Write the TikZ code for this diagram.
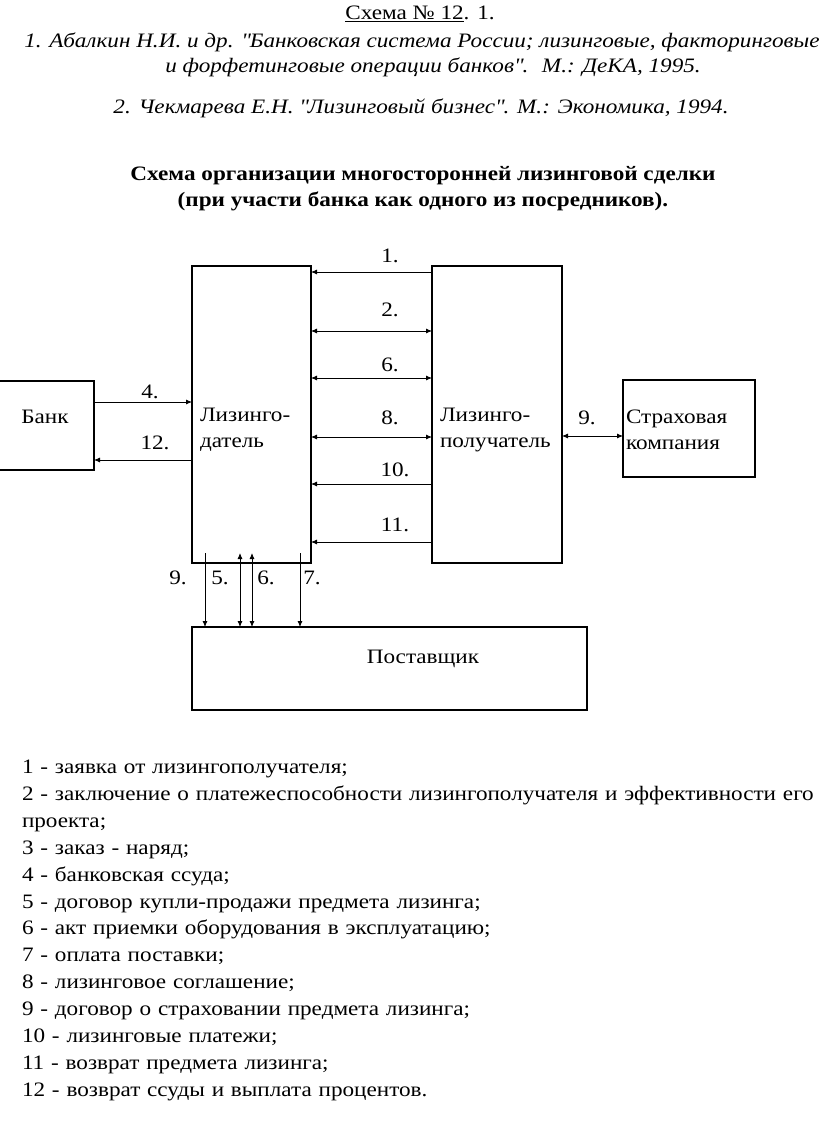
\documentclass[tikz,border=0pt]{standalone}
\usepackage{fontspec}
\setmainfont{Liberation Serif}[FakeStretch=1.13]
\usetikzlibrary{arrows.meta}
\begin{document}
\begin{tikzpicture}[x=1pt,y=-1pt,
  every node/.style={inner sep=0pt,outer sep=0pt,font=\fontsize{20.5}{25.5}\selectfont},
  box/.style={draw,line width=1.6pt,anchor=north west},
  arr/.style={line width=0.8pt,-{Latex[length=6pt,width=5pt]}},
  darr/.style={line width=0.8pt,{Latex[length=6pt,width=5pt]}-{Latex[length=6pt,width=5pt]}},
  lbl/.style={anchor=center},
  txt/.style={anchor=west,align=left},
  it/.style={anchor=center,font=\fontsize{20.5}{24.8}\selectfont\itshape},
  bf/.style={anchor=center,font=\fontsize{20.5}{24.8}\selectfont\bfseries}]
\useasboundingbox (0,0) rectangle (824,1148);
% header
\node[lbl] (h1) at (420,14) {\underline{Схема № 12}. 1.};
\node[it] (h2) at (422,42) {1. Абалкин Н.И. и др. \textquotedbl Банковская система России; лизинговые, факторинговые};
\node[it] (h3) at (433,67) {и форфетинговые операции банков\textquotedbl.~ М.: ДеКА, 1995.};
\node[it] (h4) at (421,108) {2. Чекмарева Е.Н. \textquotedbl Лизинговый бизнес\textquotedbl. М.: Экономика, 1994.};
\node[bf] (t1) at (423,176) {Схема организации многосторонней лизинговой сделки};
\node[bf] (t2) at (423,201) {(при участи банка как одного из посредников).};
% boxes
\node[box,minimum width=119,minimum height=297] (ld) at (192,266) {};
\node[box,minimum width=130,minimum height=297] (lp) at (432,266) {};
\node[box,minimum width=95,minimum height=89] (bank) at (-1,381) {};
\node[box,minimum width=132,minimum height=97] (ins) at (623,380) {};
\node[box,minimum width=395,minimum height=83] (sup) at (192,627) {};
% box texts
\node[txt] (ldt) at (200,430) {Лизинго-\\датель};
\node[txt] (lpt) at (440,430) {Лизинго-\\получатель};
\node[lbl] (bankt) at (45,417) {Банк};
\node[txt] (inst) at (626,430) {Страховая\\компания};
\node[lbl] (supt) at (423,659) {Поставщик};
% horizontal arrows between ld and lp
\draw[arr] (lp.west |- 0,272) -- (ld.east |- 0,272);
\draw[darr] (ld.east |- 0,331) -- (lp.west |- 0,331);
\draw[darr] (ld.east |- 0,378) -- (lp.west |- 0,378);
\draw[darr] (ld.east |- 0,437) -- (lp.west |- 0,437);
\draw[arr] (lp.west |- 0,484) -- (ld.east |- 0,484);
\draw[arr] (lp.west |- 0,542) -- (ld.east |- 0,542);
\node[lbl] (l1) at (390,256) {1.};
\node[lbl] (l2) at (390,310) {2.};
\node[lbl] (l6) at (390,365) {6.};
\node[lbl] (l8) at (390,418) {8.};
\node[lbl] (l10) at (395,470) {10.};
\node[lbl] (l11) at (395,525) {11.};
% bank arrows
\draw[arr] (bank.east |- 0,402) -- (ld.west |- 0,402);
\draw[arr] (ld.west |- 0,460) -- (bank.east |- 0,460);
\node[lbl] (l4) at (150,392) {4.};
\node[lbl] (l12) at (155,443) {12.};
% insurance arrow
\draw[darr] (lp.east |- 0,436) -- (ins.west |- 0,436);
\node[lbl] (l9r) at (587,418) {9.};
% vertical arrows to supplier
\draw[arr] (sup.north -| 205,0) ++(0,-74) -- (sup.north -| 205,0);
\draw[darr] (ld.south -| 240,0) ++(0,-10) -- (sup.north -| 240,0);
\draw[darr] (ld.south -| 252,0) ++(0,-10) -- (sup.north -| 252,0);
\draw[arr] (sup.north -| 300,0) ++(0,-74) -- (sup.north -| 300,0);
\node[lbl] (l9) at (178,578) {9.};
\node[lbl] (l5) at (220,578) {5.};
\node[lbl] (l6b) at (266,578) {6.};
\node[lbl] (l7) at (312,578) {7.};
% legend
\node[anchor=north west,align=left,text width=820pt,font=\fontsize{20.5}{26.9}\selectfont] (leg) at (22,760) {%
1 - заявка от лизингополучателя;\\
2 - заключение о платежеспособности лизингополучателя и эффективности его\\
проекта;\\
3 - заказ - наряд;\\
4 - банковская ссуда;\\
5 - договор купли-продажи предмета лизинга;\\
6 - акт приемки оборудования в эксплуатацию;\\
7 - оплата поставки;\\
8 - лизинговое соглашение;\\
9 - договор о страховании предмета лизинга;\\
10 - лизинговые платежи;\\
11 - возврат предмета лизинга;\\
12 - возврат ссуды и выплата процентов.};
\end{tikzpicture}
\end{document}
